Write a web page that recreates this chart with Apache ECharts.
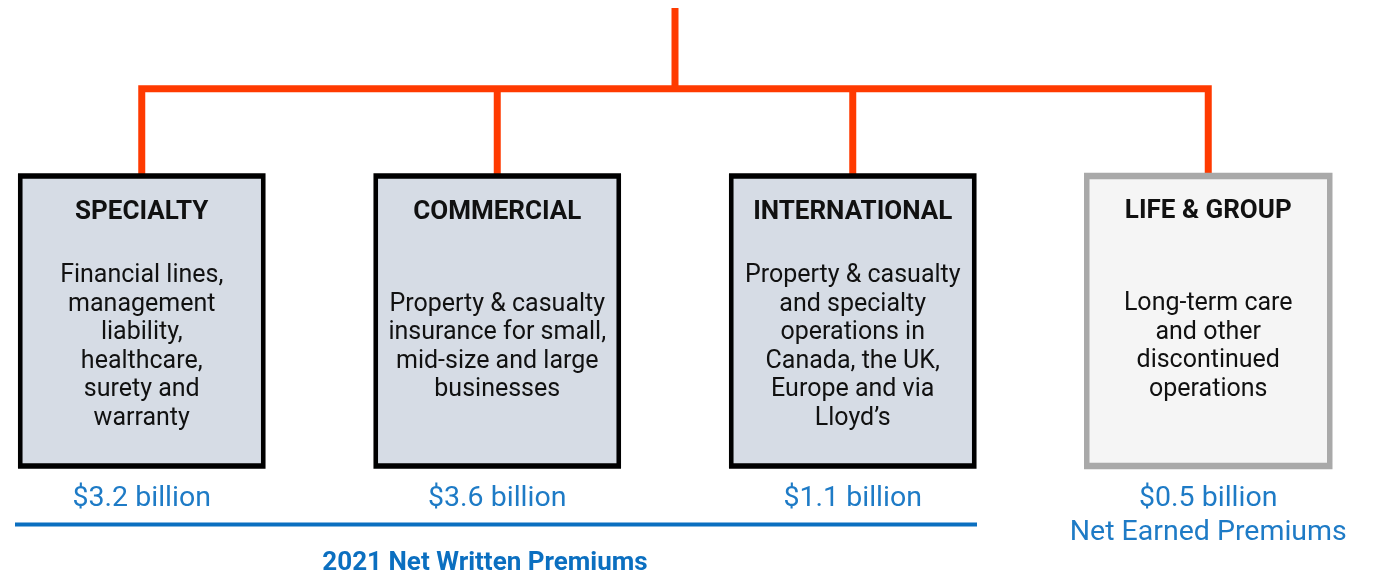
<!DOCTYPE html>
<html>
<head>
<meta charset="utf-8">
<style>
  html, body { margin: 0; padding: 0; background: #fff; }
  #chart { width: 1382px; height: 572px; }
</style>
<script src="https://cdn.jsdelivr.net/npm/echarts@6/dist/echarts.min.js"></script>
</head>
<body>
<div id="chart"></div>
<script>
const segments = ['SPECIALTY', 'COMMERCIAL', 'INTERNATIONAL', 'LIFE & GROUP']
const descriptions = [
  ['Financial lines,', 'management', 'liability,', 'healthcare,', 'surety and', 'warranty'],
  ['Property & casualty', 'insurance for small,', 'mid-size and large', 'businesses'],
  ['Property & casualty', 'and specialty', 'operations in', 'Canada, the UK,', 'Europe and via', 'Lloyd\u2019s'],
  ['Long-term care', 'and other', 'discontinued', 'operations']
]
const premiums = [3.2, 3.6, 1.1, 0.5]
const premiumNotes = ['', '', '', 'Net Earned Premiums']
const discontinued = [false, false, false, true]
const footerLabel = '2021 Net Written Premiums'

const RED = '#ff3a00'
const BLUE = '#1e7bc6'
const DARK_BLUE = '#0b6fc0'
const FONT = 'Roboto, "Open Sans", sans-serif'
const BODY_LH = 28.5

const chart = echarts.init(document.getElementById('chart'))

function nodeLabel(i) {
  const lines = descriptions[i]
  const half = lines.length * BODY_LH / 2
  const gapTop = Math.max(1, 344 - half - 224)
  const gapBottom = Math.max(1, 479 - (344 + half))
  let text = `{t|${segments[i]}}\n{g1| }\n`
  text += lines.map((l) => `{b|${l}}`).join('\n')
  text += `\n{g2| }\n{v|$${premiums[i].toFixed(1)} billion}`
  if (premiumNotes[i]) text += `\n{v|${premiumNotes[i]}}`
  return {
    show: true,
    position: 'insideTop',
    distance: 24,
    align: 'center',
    formatter: text,
    rich: {
      t: { fontFamily: FONT, fontSize: 26, fontWeight: 'bold', color: '#111', lineHeight: 30, align: 'center' },
      g1: { fontSize: 2, lineHeight: gapTop },
      b: { fontFamily: FONT, fontSize: 25, color: '#111', lineHeight: BODY_LH, align: 'center' },
      g2: { fontSize: 2, lineHeight: gapBottom },
      v: { fontFamily: FONT, fontSize: 28.5, color: BLUE, lineHeight: 34, align: 'center' }
    }
  }
}

const children = segments.map((name, i) => ({
  name,
  itemStyle: discontinued[i]
    ? { color: '#f5f5f5', borderColor: '#a9a9a9', borderWidth: 6 }
    : { color: '#d6dce5', borderColor: '#000', borderWidth: 5 },
  label: nodeLabel(i)
}))

chart.setOption({
  animation: false,
  series: [
    {
      type: 'tree',
      orient: 'TB',
      layout: 'orthogonal',
      edgeShape: 'polyline',
      edgeForkPosition: '48%',
      left: -36,
      width: 1422,
      top: 8,
      height: 168,
      roam: false,
      expandAndCollapse: false,
      symbol: 'rect',
      symbolSize: [243, 290],
      symbolOffset: [0, '50%'],
      lineStyle: { color: RED, width: 7, curveness: 0 },
      emphasis: { disabled: true },
      data: [
        {
          name: 'root',
          symbolSize: 0,
          symbolOffset: [0, 0],
          label: { show: false },
          children
        }
      ]
    }
  ],
  graphic: [
    {
      type: 'line',
      shape: { x1: 15, y1: 524.5, x2: 977, y2: 524.5 },
      style: { stroke: DARK_BLUE, lineWidth: 4 }
    },
    {
      type: 'text',
      x: 485,
      y: 563,
      style: {
        text: footerLabel,
        fill: DARK_BLUE,
        font: `bold 26px ${FONT}`,
        align: 'center',
        verticalAlign: 'middle'
      }
    }
  ]
})

window.addEventListener('resize', () => chart.resize())
</script>
</body>
</html>
